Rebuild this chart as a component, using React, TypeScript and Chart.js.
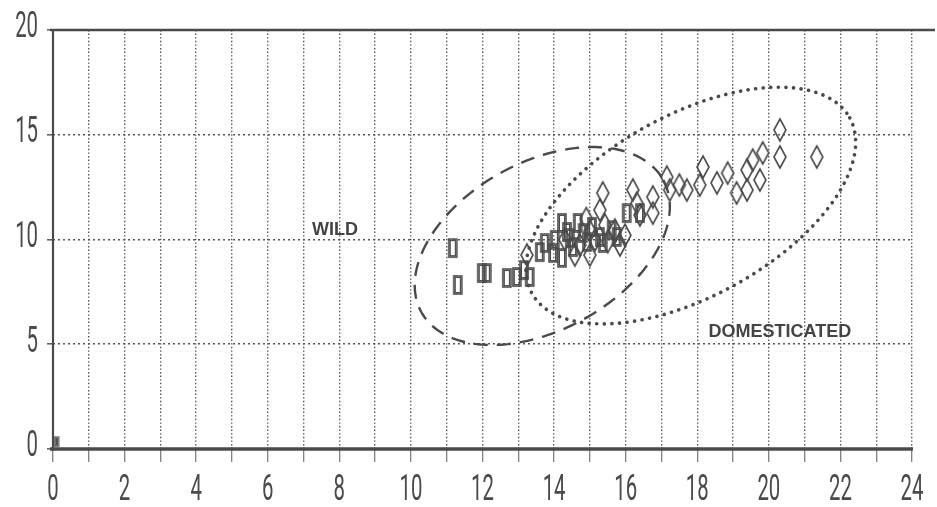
import React, { useEffect, useRef } from "react";
import { Chart, registerables } from "chart.js";

Chart.register(...registerables);

// ---- data ----
const xTicks = [0, 2, 4, 6, 8, 10, 12, 14, 16, 18, 20, 22, 24];
const yTicks = [0, 5, 10, 15, 20];

const wildX = [11.17, 11.31, 11.98, 12.12, 12.68, 12.96, 13.16, 13.32, 13.6, 13.74, 13.97, 14.02, 14.22, 14.22, 14.36, 14.44, 14.53, 14.66, 14.8, 14.92, 15.06, 15.28, 15.36, 15.61, 15.75, 16.03, 16.4];
const wildY = [9.59, 7.83, 8.4, 8.4, 8.16, 8.21, 8.54, 8.21, 9.4, 9.83, 9.36, 9.98, 9.12, 10.79, 10.36, 10.07, 9.64, 10.79, 10.31, 9.88, 10.6, 10.12, 9.83, 10.45, 10.12, 11.26, 11.26];

const domX = [13.24, 14.3, 14.58, 14.72, 14.9, 15.0, 15.0, 15.14, 15.28, 15.36, 15.42, 15.5, 15.7, 15.84, 15.98, 16.2, 16.31, 16.4, 16.76, 16.76, 17.15, 17.23, 17.5, 17.71, 18.07, 18.16, 18.55, 18.85, 19.1, 19.39, 19.39, 19.55, 19.75, 19.83, 20.31, 20.31, 21.34];
const domY = [9.26, 10.0, 9.26, 9.74, 11.0, 9.26, 10.4, 9.98, 11.41, 12.22, 10.69, 9.9, 10.45, 9.74, 10.2, 12.36, 11.74, 11.17, 12.03, 11.26, 12.98, 12.36, 12.6, 12.36, 12.6, 13.46, 12.7, 13.17, 12.22, 13.32, 12.36, 13.79, 12.84, 14.13, 15.23, 13.94, 13.94];

const originX = [0.1];
const originY = [0.35];

// ellipses: centre and two conjugate semi-axis vectors, in data units
const wildEllipse = { cx: 13.67, cy: 9.69, ux: 3.38, uy: 3.15, vx: 1.13, vy: -3.52 };
const domEllipse = { cx: 17.82, cy: 11.62, ux: 4.44, uy: 4.19, vx: 1.23, vy: -3.79 };

const labelText = ["WILD", "DOMESTICATED"];
const labelX = [7.88, 20.31];
const labelY = [10.45, 5.58];

const INK = "#4a4a4a";
const TICK_FONT = "400 37px Roboto, 'DejaVu Sans', sans-serif";
const TICK_SQUEEZE = 0.55;

function makeRect(w: number, h: number, lw: number) {
  const c = document.createElement("canvas");
  c.width = w + 4;
  c.height = h + 4;
  const g = c.getContext("2d")!;
  g.strokeStyle = INK;
  g.lineWidth = lw;
  g.strokeRect(2, 2, w, h);
  g.lineWidth = 1;
  g.strokeRect(3.5, 3.5, w - 3, h - 3);
  return c;
}

function makeDiamond(w: number, h: number, lw: number) {
  const c = document.createElement("canvas");
  c.width = w + 4;
  c.height = h + 4;
  const g = c.getContext("2d")!;
  g.strokeStyle = INK;
  g.lineWidth = lw;
  g.beginPath();
  g.moveTo(2 + w / 2, 2);
  g.lineTo(2 + w, 2 + h / 2);
  g.lineTo(2 + w / 2, 2 + h);
  g.lineTo(2, 2 + h / 2);
  g.closePath();
  g.stroke();
  return c;
}

const overlay = {
  id: "overlay",
  beforeDatasetsDraw(chart: any) {
    const { ctx, scales } = chart;
    const xs = scales.x;
    const ys = scales.y;
    const drawEllipse = (e: any, dash: number[], lw: number, cap: CanvasLineCap) => {
      const cpx = xs.getPixelForValue(e.cx);
      const cpy = ys.getPixelForValue(e.cy);
      const upx = xs.getPixelForValue(e.cx + e.ux) - cpx;
      const upy = ys.getPixelForValue(e.cy + e.uy) - cpy;
      const vpx = xs.getPixelForValue(e.cx + e.vx) - cpx;
      const vpy = ys.getPixelForValue(e.cy + e.vy) - cpy;
      ctx.save();
      ctx.strokeStyle = INK;
      ctx.lineWidth = lw;
      ctx.lineCap = cap;
      ctx.setLineDash(dash);
      ctx.beginPath();
      const n = 200;
      for (let i = 0; i <= n; i++) {
        const t = (i / n) * Math.PI * 2;
        const px = cpx + upx * Math.cos(t) + vpx * Math.sin(t);
        const py = cpy + upy * Math.cos(t) + vpy * Math.sin(t);
        if (i === 0) ctx.moveTo(px, py);
        else ctx.lineTo(px, py);
      }
      ctx.stroke();
      ctx.restore();
    };
    drawEllipse(wildEllipse, [14, 9], 2.4, "butt");
    drawEllipse(domEllipse, [0.1, 7.5], 3.6, "round");

    ctx.save();
    ctx.fillStyle = "#444";
    ctx.font = "bold 18px 'Liberation Sans', Arial, sans-serif";
    ctx.textAlign = "center";
    ctx.textBaseline = "middle";
    labelText.forEach((t, i) => {
      ctx.fillText(t, xs.getPixelForValue(labelX[i]), ys.getPixelForValue(labelY[i]));
    });
    ctx.restore();
  },
  afterDraw(chart: any) {
    const { ctx, scales } = chart;
    const xs = scales.x;
    const ys = scales.y;
    const x0 = xs.getPixelForValue(0);
    const x24 = xs.getPixelForValue(24);
    const y0 = ys.getPixelForValue(0);
    const y20 = ys.getPixelForValue(20);
    ctx.save();
    ctx.strokeStyle = INK;
    ctx.setLineDash([]);
    ctx.lineWidth = 2.5;
    ctx.beginPath();
    ctx.moveTo(x0 - 3, y20);
    ctx.lineTo(chart.width - 2, y20);
    ctx.stroke();
    ctx.lineWidth = 2.2;
    ctx.beginPath();
    ctx.moveTo(x0, y20);
    ctx.lineTo(x0, y0 + 2);
    ctx.stroke();
    ctx.lineWidth = 3.4;
    ctx.beginPath();
    ctx.moveTo(x0 - 3, y0);
    ctx.lineTo(x24 + 1, y0);
    ctx.stroke();

    // tick labels in a narrow plotter-like face
    ctx.fillStyle = "#4a4a4a";
    ctx.font = TICK_FONT;
    ctx.textBaseline = "middle";
    ctx.textAlign = "center";
    xTicks.forEach((v) => {
      const px = xs.getPixelForValue(v);
      ctx.save();
      ctx.translate(px, 491);
      ctx.scale(TICK_SQUEEZE, 1);
      ctx.fillText(String(v), 0, 0);
      ctx.restore();
    });
    ctx.textAlign = "right";
    yTicks.forEach((v) => {
      const py = ys.getPixelForValue(v);
      ctx.save();
      ctx.translate(38, py - 2);
      ctx.scale(TICK_SQUEEZE, 1);
      ctx.fillText(String(v), 0, 0);
      ctx.restore();
    });
    ctx.restore();
  },
};

export default function App() {
  const ref = useRef<HTMLCanvasElement | null>(null);

  useEffect(() => {
    document.body.style.margin = "0";
    const canvas = ref.current!;
    const rectImg = makeRect(8, 18, 1.6);
    const diamondImg = makeDiamond(12, 22, 1.6);
    const tinyRect = makeRect(4, 9, 1.4);

    const chart = new Chart(canvas, {
      type: "scatter",
      data: {
        datasets: [
          {
            label: "Wild",
            data: wildX.map((x, i) => ({ x, y: wildY[i] })),
            pointStyle: rectImg as any,
            clip: false as any,
          },
          {
            label: "Domesticated",
            data: domX.map((x, i) => ({ x, y: domY[i] })),
            pointStyle: diamondImg as any,
            clip: false as any,
          },
          {
            label: "Origin",
            data: originX.map((x, i) => ({ x, y: originY[i] })),
            pointStyle: tinyRect as any,
            clip: false as any,
          },
        ],
      },
      options: {
        animation: false,
        responsive: false,
        maintainAspectRatio: false,
        layout: { padding: { top: 30, right: 25, left: 0, bottom: 0 } },
        plugins: { legend: { display: false }, tooltip: { enabled: false } },
        scales: {
          x: {
            type: "linear",
            min: 0,
            max: 24,
            afterBuildTicks: (s: any) => {
              const out: any[] = [];
              for (let v = 0; v <= 24; v++) out.push({ value: v });
              s.ticks = out;
            },
            ticks: { display: false, autoSkip: false, maxRotation: 0 },
            grid: {
              color: "#555",
              lineWidth: 1.4,
              tickLength: 13,
              tickColor: "#777",
              tickWidth: 1.2,
              tickBorderDash: [],
            },
            border: { display: false, dash: [1.4, 2.2] },
            afterFit: (s: any) => {
              s.height = 58;
            },
          },
          y: {
            type: "linear",
            min: 0,
            max: 20,
            afterBuildTicks: (s: any) => {
              s.ticks = yTicks.map((v) => ({ value: v }));
            },
            ticks: { display: false },
            grid: {
              color: "#555",
              lineWidth: 1.6,
              tickLength: 6,
              tickColor: "#666",
              tickWidth: 1.6,
              tickBorderDash: [],
            },
            border: { display: false, dash: [2, 3] },
            afterFit: (s: any) => {
              s.width = 53;
            },
          },
        },
      } as any,
      plugins: [overlay],
    });
    return () => chart.destroy();
  }, []);

  return (
    <div style={{ width: 937, height: 507, background: "#fff" }}>
      <canvas ref={ref} width={937} height={507} style={{ display: "block", width: 937, height: 507 }} />
    </div>
  );
}
